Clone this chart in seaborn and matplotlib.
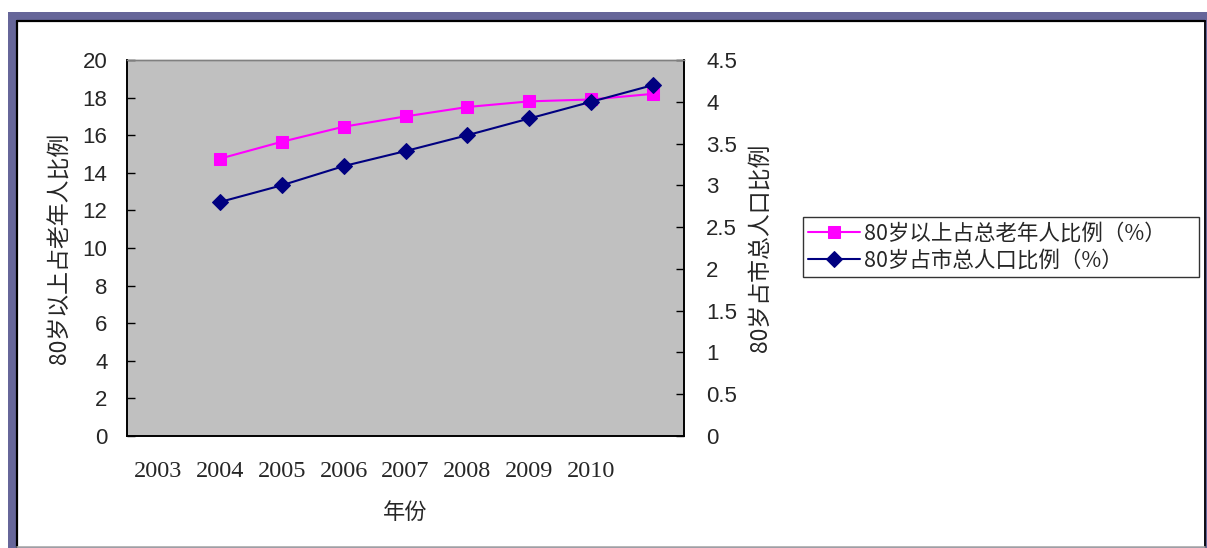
import numpy as np
import pandas as pd
import matplotlib
matplotlib.use("Agg")
import matplotlib.pyplot as plt
import seaborn as sns
from matplotlib.patches import Rectangle
from matplotlib.lines import Line2D

# Data
year_labels = ['2003', '2004', '2005', '2006', '2007', '2008', '2009', '2010']
share_of_elderly = [14.75, 15.65, 16.45, 17.0, 17.5, 17.8, 17.9, 18.2]   # left axis
share_of_city = [2.8, 3.0, 3.23, 3.41, 3.6, 3.8, 4.0, 4.2]              # right axis

name_elderly = '80岁以上占总老年人比例（%）'
name_city = '80岁占市总人口比例（%）'

sns.set_style("white")
plt.rcParams['font.family'] = ['Noto Sans CJK SC', 'DejaVu Sans']

# points sit one category to the right of their year label (as in the original Excel chart)
n_cat = len(year_labels) + 1
pos = np.arange(1, n_cat) + 0.5
df = pd.DataFrame({'pos': pos, 'elderly': share_of_elderly, 'city': share_of_city})

W, H = 1207, 548
fig = plt.figure(figsize=(W / 100, H / 100), dpi=100)

# outer frame (purple band on top/left, white panel)
fig.patches.append(Rectangle((8 / W, 0), 1 - 8 / W, 1 - 12 / H, transform=fig.transFigure,
                             facecolor='#666699', edgecolor='none', zorder=-3))
fig.patches.append(Rectangle((17 / W, 1 / H), (1204 - 17) / W, (547 - 21) / H, transform=fig.transFigure,
                             facecolor='white', edgecolor='none', zorder=-2))
fig.lines.append(Line2D([16.5 / W, 16.5 / W], [1 / H, 1 - 20.5 / H], transform=fig.transFigure, color='black', lw=1.6))
fig.lines.append(Line2D([16.5 / W, 1205 / W], [1 - 20.5 / H, 1 - 20.5 / H], transform=fig.transFigure, color='black', lw=1.6))
fig.lines.append(Line2D([1204.5 / W, 1204.5 / W], [1 / H, 1 - 20.5 / H], transform=fig.transFigure, color='black', lw=1.2))
fig.lines.append(Line2D([16.5 / W, 1205 / W], [1 / H, 1 / H], transform=fig.transFigure, color='#aaaaaa', lw=1.2))

ax = fig.add_axes([127 / W, 1 - 436 / H, (684 - 127) / W, (436 - 60) / H])
ax.set_facecolor('#C0C0C0')
ax2 = ax.twinx()

sns.lineplot(data=df, x='pos', y='elderly', ax=ax, color='#FF00FF', lw=1.5,
             marker='s', markersize=9, markeredgecolor='#FF00FF', label=name_elderly, legend=False)
sns.lineplot(data=df, x='pos', y='city', ax=ax2, color='#000080', lw=1.5,
             marker='D', markersize=8, markeredgecolor='#000080', label=name_city, legend=False)

ax.set_xlim(0, n_cat)
ax.set_ylim(0, 20)
ax2.set_ylim(0, 4.5)
ax.set_yticks(np.arange(0, 21, 2))
ax2.set_yticks(np.arange(0, 4.6, 0.5))
ax2.set_yticklabels([f'{v:g}' for v in np.arange(0, 4.6, 0.5)])

ax.set_xticks(np.arange(1, n_cat))
ax.set_xticklabels([])
ax.set_xticks(np.arange(len(year_labels)) + 0.5, minor=True)
ax.set_xticklabels(year_labels, minor=True)
ax.tick_params(axis='x', which='major', direction='in', length=6, width=1, color='black')
ax.tick_params(axis='x', which='minor', length=0, pad=18, labelsize=17.5, labelfontfamily='Liberation Serif')

ax.tick_params(axis='y', direction='in', length=6, width=1, color='black', pad=14, left=True,
               labelsize=16, labelfontfamily='Liberation Sans')
ax2.tick_params(axis='y', direction='in', length=6, width=1, color='black', pad=16, right=True,
                labelsize=16, labelfontfamily='Liberation Sans')

ax.set_xlabel('年份', fontsize=16, labelpad=14)
ax.set_ylabel('80岁以上占老年人比例', fontsize=16.5, labelpad=8)
ax2.set_ylabel('80岁占市总人口比例', fontsize=16.5, labelpad=9)

for a in (ax, ax2):
    for s in ('left', 'bottom', 'right'):
        a.spines[s].set_color('black')
        a.spines[s].set_linewidth(1.2)
    a.spines['top'].set_color('#808080')
    a.spines['top'].set_linewidth(1)
    a.grid(False)

handles = ax.get_lines()[:1] + ax2.get_lines()[:1]
leg = fig.legend(handles, [name_elderly, name_city], loc='center',
                 bbox_to_anchor=(803 / W, 1 - 280 / H, 396 / W, 66 / H), bbox_transform=fig.transFigure,
                 mode='expand', fontsize=15.5, frameon=True, fancybox=False, borderpad=0.25,
                 handlelength=2.4, handletextpad=0.2, labelspacing=0.2, borderaxespad=0)
leg.get_frame().set_edgecolor('black')
leg.get_frame().set_linewidth(1)

fig.savefig('out.png', dpi=100, facecolor='white')
